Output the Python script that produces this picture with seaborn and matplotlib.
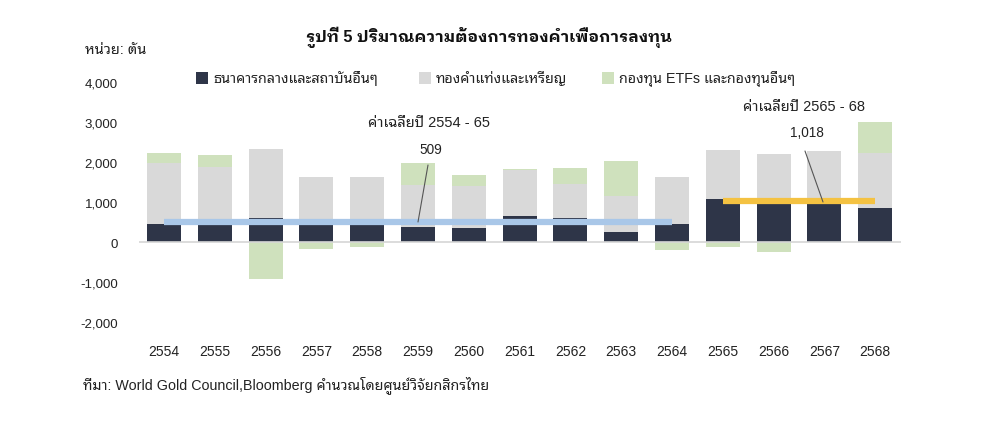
import matplotlib
matplotlib.use("Agg")
import matplotlib.pyplot as plt
from matplotlib import font_manager as fm
from matplotlib.ft2font import FT2Font
from matplotlib.patches import Rectangle
import matplotlib.patheffects as pe
import numpy as np
import pandas as pd
import seaborn as sns

# ---------------- data ----------------
years = ["2554", "2555", "2556", "2557", "2558", "2559", "2560", "2561",
         "2562", "2563", "2564", "2565", "2566", "2567", "2568"]
central_banks = [450, 440, 600, 570, 470, 380, 360, 640, 590, 240, 440, 1080, 960, 1040, 840]
bars_coins = [1530, 1440, 1730, 1050, 1150, 1050, 1030, 1160, 860, 910, 1180, 1220, 1240, 1230, 1380]
etfs = [240, 290, -930, -180, -130, 550, 280, 30, 400, 880, -200, -120, -240, 0, 780]

avg_labels = ["ค่าเฉลี่ยปี 2554 - 65", "ค่าเฉลี่ยปี 2565 - 68"]
avg_values = [509, 1018]
avg_spans = [("2554", "2564"), ("2565", "2568")]
avg_value_text = ["509", "1,018"]

series_names = ["ธนาคารกลางและสถาบันอื่นๆ", "ทองคำแท่งและเหรียญ", "กองทุน ETFs และกองทุนอื่นๆ"]
yticks = [-2000, -1000, 0, 1000, 2000, 3000, 4000]
title = "รูปที่ 5 ปริมาณความต้องการทองคำเพื่อการลงทุน"
unit = "หน่วย: ตัน"
source = "ที่มา: World Gold Council,Bloomberg คำนวณโดยศูนย์วิจัยกสิกรไทย"

# ---------------- fonts ----------------
def weight_num(w):
    if isinstance(w, (int, float)):
        return w
    return {"bold": 700, "semibold": 600, "demibold": 600, "heavy": 800,
            "black": 900, "extra bold": 800}.get(str(w).lower(), 400)

def find_thai():
    found = {}
    for f in fm.fontManager.ttflist:
        try:
            cm = FT2Font(f.fname).get_charmap()
        except Exception:
            continue
        if 0x0E17 in cm and 0x0E2D in cm and 0x0E33 in cm:
            found.setdefault(f.name, set()).add(weight_num(f.weight))
    return found

thai = find_thai()
pref = ["Noto Sans Thai Looped", "IBM Plex Sans Thai Looped", "Noto Sans Thai", "IBM Plex Sans Thai"]
names = sorted(thai, key=lambda n: (pref.index(n) if n in pref else 99, n))
body_thai = names[0] if names else "DejaVu Sans"
bold_thai = None
for n in names:
    if "Looped" in n and max(thai[n]) >= 600:
        bold_thai = n
        break

sns.set_theme(style="white")
plt.rcParams["font.family"] = ["Liberation Sans", body_thai, "DejaVu Sans"]
plt.rcParams["axes.unicode_minus"] = False

C_DARK = "#2e3548"
C_GRAY = "#d9d9d9"
C_GREEN = "#cfe1bd"
C_BLUE = "#a9c7e8"
C_YEL = "#f4c242"
TXT = "#222222"

W, H = 985, 435
fig = plt.figure(figsize=(W / 100, H / 100), dpi=100)
fig.patch.set_facecolor("white")
ax = fig.add_axes([138.6 / W, 1 - 323 / H, 762 / W, 240 / H])

df = pd.DataFrame({"year": years, "cb": central_banks, "bc": bars_coins, "etf": etfs})
df["top_green"] = df["cb"] + df["bc"] + df["etf"].clip(lower=0)
df["top_gray"] = df["cb"] + df["bc"]
df["neg_green"] = df["etf"].clip(upper=0)

common = dict(x="year", order=years, width=0.67, saturation=1, linewidth=0, ax=ax)
sns.barplot(data=df, y="top_green", color=C_GREEN, **common)
sns.barplot(data=df, y="top_gray", color=C_GRAY, **common)
sns.barplot(data=df, y="cb", color=C_DARK, **common)
sns.barplot(data=df, y="neg_green", color=C_GREEN, **common)

ax.axhline(0, color="#d6d6d6", lw=1.2, zorder=1)

colors = [C_BLUE, C_YEL]
for (a, b), v, c in zip(avg_spans, avg_values, colors):
    ax.plot([years.index(a), years.index(b)], [v, v], color=c, lw=4.5,
            solid_capstyle="butt", zorder=5)

ax.set_xlim(-0.5, 14.5)
ax.set_ylim(-2000, 4000)
ax.set_yticks(yticks)
ax.set_yticklabels([f"{t:,}" for t in yticks])
ax.tick_params(axis="y", length=0, pad=15, labelsize=9.5, labelcolor=TXT)
ax.tick_params(axis="x", length=0, pad=16, labelsize=10, labelcolor=TXT)
ax.set_xlabel("")
ax.set_ylabel("")
for s in ax.spines.values():
    s.set_visible(False)
ax.grid(False)

def fx(px):
    return px / W

def fy(py):
    return 1 - py / H

def to_data(px, py):
    inv = ax.transData.inverted()
    return inv.transform(fig.transFigure.transform((fx(px), fy(py))))

fig.canvas.draw()
ann = [((429, 123), (431, 150), (428, 166), (418, 223)),
       ((804, 107), (807, 133), (805, 152), (823, 203))]
for i, (tpos, vpos, l0, l1) in enumerate(ann):
    fig.text(fx(tpos[0]), fy(tpos[1]), avg_labels[i], ha="center", va="center",
             fontsize=10.5, color=TXT)
    fig.text(fx(vpos[0]), fy(vpos[1]), avg_value_text[i], ha="center", va="center",
             fontsize=9.8, color=TXT)
    p0 = to_data(*l0)
    p1 = to_data(*l1)
    ax.plot([p0[0], p1[0]], [p0[1], p1[1]], color="#555555", lw=0.8, zorder=6)

if bold_thai:
    fig.text(fx(489), fy(37), title, ha="center", va="center", fontsize=11.8,
             fontweight="bold", color="#111111",
             family=["Liberation Sans", bold_thai, "DejaVu Sans"])
else:
    fig.text(fx(489), fy(37), title, ha="center", va="center", fontsize=12.5,
             fontweight="bold", color="#111111",
             path_effects=[pe.withStroke(linewidth=0.9, foreground="#111111")])
fig.text(fx(85), fy(50), unit, ha="left", va="center", fontsize=10.5, color=TXT)
fig.text(fx(83), fy(385), source, ha="left", va="center", fontsize=10.3, color=TXT)

leg_sq = [196, 419, 602]
leg_colors = [C_DARK, C_GRAY, C_GREEN]
for x0, c, name in zip(leg_sq, leg_colors, series_names):
    fig.patches.append(Rectangle((fx(x0), fy(85)), 12 / W, 12 / H, transform=fig.transFigure,
                                 facecolor=c, edgecolor="none"))
    fig.text(fx(x0 + 17), fy(79), name, ha="left", va="center", fontsize=10.3, color=TXT)

fig.savefig("out.png", dpi=100, facecolor="white")
